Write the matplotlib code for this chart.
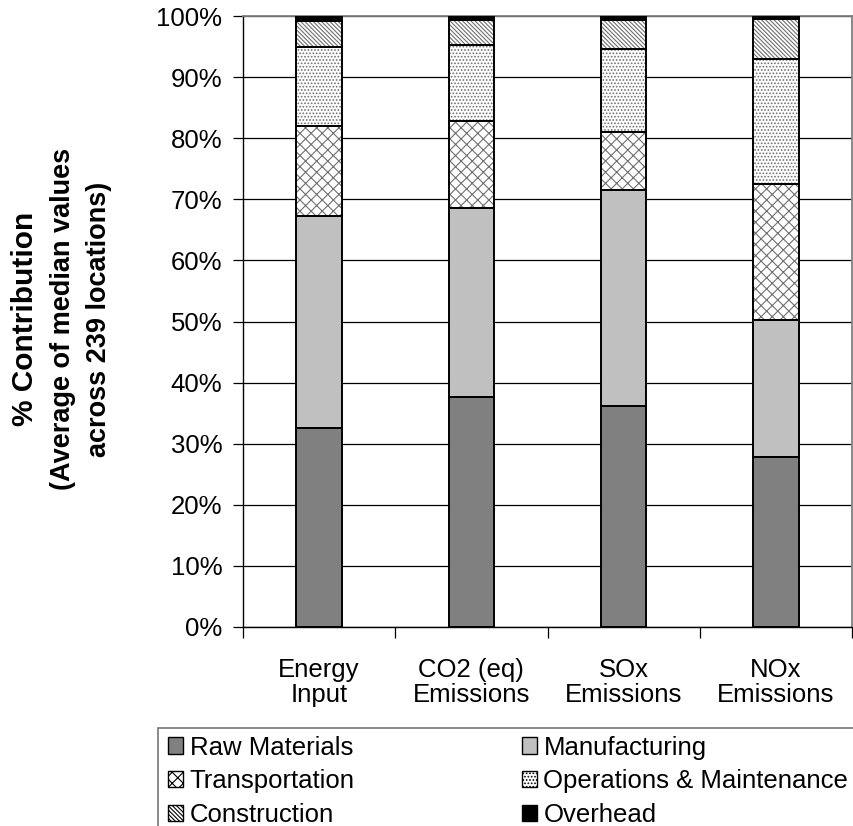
import matplotlib
matplotlib.use('Agg')
import matplotlib.pyplot as plt
from matplotlib.patches import Patch, Rectangle
import numpy as np

plt.rcParams['font.family'] = ['Liberation Sans', 'DejaVu Sans']
plt.rcParams['hatch.linewidth'] = 0.8

# ---- data (percent contribution) ------------------------------------------
categories = ['Energy\nInput', 'CO2 (eq)\nEmissions', 'SOx\nEmissions', 'NOx\nEmissions']
raw_materials = [32.5, 37.7, 36.1, 27.8]
manufacturing = [34.7, 30.8, 35.4, 22.5]
transportation = [14.8, 14.3, 9.5, 22.2]
operations = [13.0, 12.4, 13.6, 20.4]
construction = [4.2, 4.1, 4.7, 6.6]
overhead = [0.8, 0.7, 0.7, 0.5]
y_ticks = [0, 10, 20, 30, 40, 50, 60, 70, 80, 90, 100]
# ---------------------------------------------------------------------------

series = [
    ('Raw Materials', raw_materials, '#808080', None),
    ('Manufacturing', manufacturing, '#c0c0c0', None),
    ('Transportation', transportation, 'white', 'xxx'),
    ('Operations & Maintenance', operations, 'white', '.....'),
    ('Construction', construction, 'white', '\\\\\\\\\\\\\\\\'),
    ('Overhead', overhead, 'black', None),
]

fig = plt.figure(figsize=(8.54, 8.26), dpi=100)
ax = fig.add_axes([243 / 854, 1 - 627 / 826, 609 / 854, 611 / 826])

x = np.arange(len(categories))
width = 0.30
bottom = np.zeros(len(categories))
handles = []
for label, vals, color, hatch in series:
    vals = np.array(vals)
    # hatch layer (hatch colour follows edgecolor) then black outline
    ax.bar(x, vals, width, bottom=bottom, color=color, hatch=hatch,
           edgecolor='#707070' if hatch else color, linewidth=0, zorder=2)
    ax.bar(x, vals, width, bottom=bottom, fill=False, edgecolor='black',
           linewidth=1.4, zorder=3)
    handles.append(Patch(facecolor=color, hatch=hatch, edgecolor='black',
                         linewidth=1.0, label=label))
    bottom += vals

ax.set_xlim(-0.5, len(categories) - 0.5)
ax.set_ylim(0, 100)
ax.set_yticks(y_ticks)
ax.set_yticklabels([f'{v}%' for v in y_ticks], fontsize=18.5)
ax.yaxis.grid(True, color='black', linewidth=0.9, zorder=0)
ax.set_axisbelow(True)

ax.set_xticks(np.arange(-0.5, len(categories), 1.0))
ax.set_xticklabels([])
ax.set_xticks(x, minor=True)
ax.set_xticklabels(categories, minor=True, fontsize=18.5, linespacing=1.05)
ax.tick_params(axis='x', which='minor', length=0, pad=22)
ax.tick_params(axis='x', which='major', length=8, width=0.9, direction='out')
ax.tick_params(axis='y', length=7, width=0.9, direction='out', pad=8)

for side in ('top', 'right'):
    ax.spines[side].set_color('#808080')
    ax.spines[side].set_linewidth(1.3)
ax.spines['left'].set_linewidth(1.0)
ax.spines['bottom'].set_linewidth(1.0)

ylab_y = 1 - 319 / 826
fig.text(25 / 854, ylab_y, '% Contribution', rotation=90, ha='center',
         va='center', fontsize=21.5, fontweight='bold')
fig.text(63 / 854, ylab_y, '(Average of median values', rotation=90,
         ha='center', va='center', fontsize=19.5, fontweight='bold')
fig.text(99 / 854, ylab_y, 'across 239 locations)', rotation=90,
         ha='center', va='center', fontsize=19.5, fontweight='bold')

# legend box (runs off the right and bottom edges like the original)
fig.patches.append(Rectangle((158 / 854, -0.05), 0.9, 1 - 728 / 826 + 0.05,
                             transform=fig.transFigure, fill=False,
                             edgecolor='#808080', linewidth=1.3))
# row-wise order for a two-column legend
order = [0, 2, 4, 1, 3, 5]
fig.legend(handles=[handles[i] for i in order], ncol=2, loc='upper left',
           bbox_to_anchor=(160 / 854, 1 - 728 / 826), frameon=False,
           fontsize=18.5, handlelength=0.6, handleheight=0.6,
           handletextpad=0.25, labelspacing=0.37, columnspacing=6.5,
           borderpad=0.3, borderaxespad=0)

fig.savefig('out.png', dpi=100)
